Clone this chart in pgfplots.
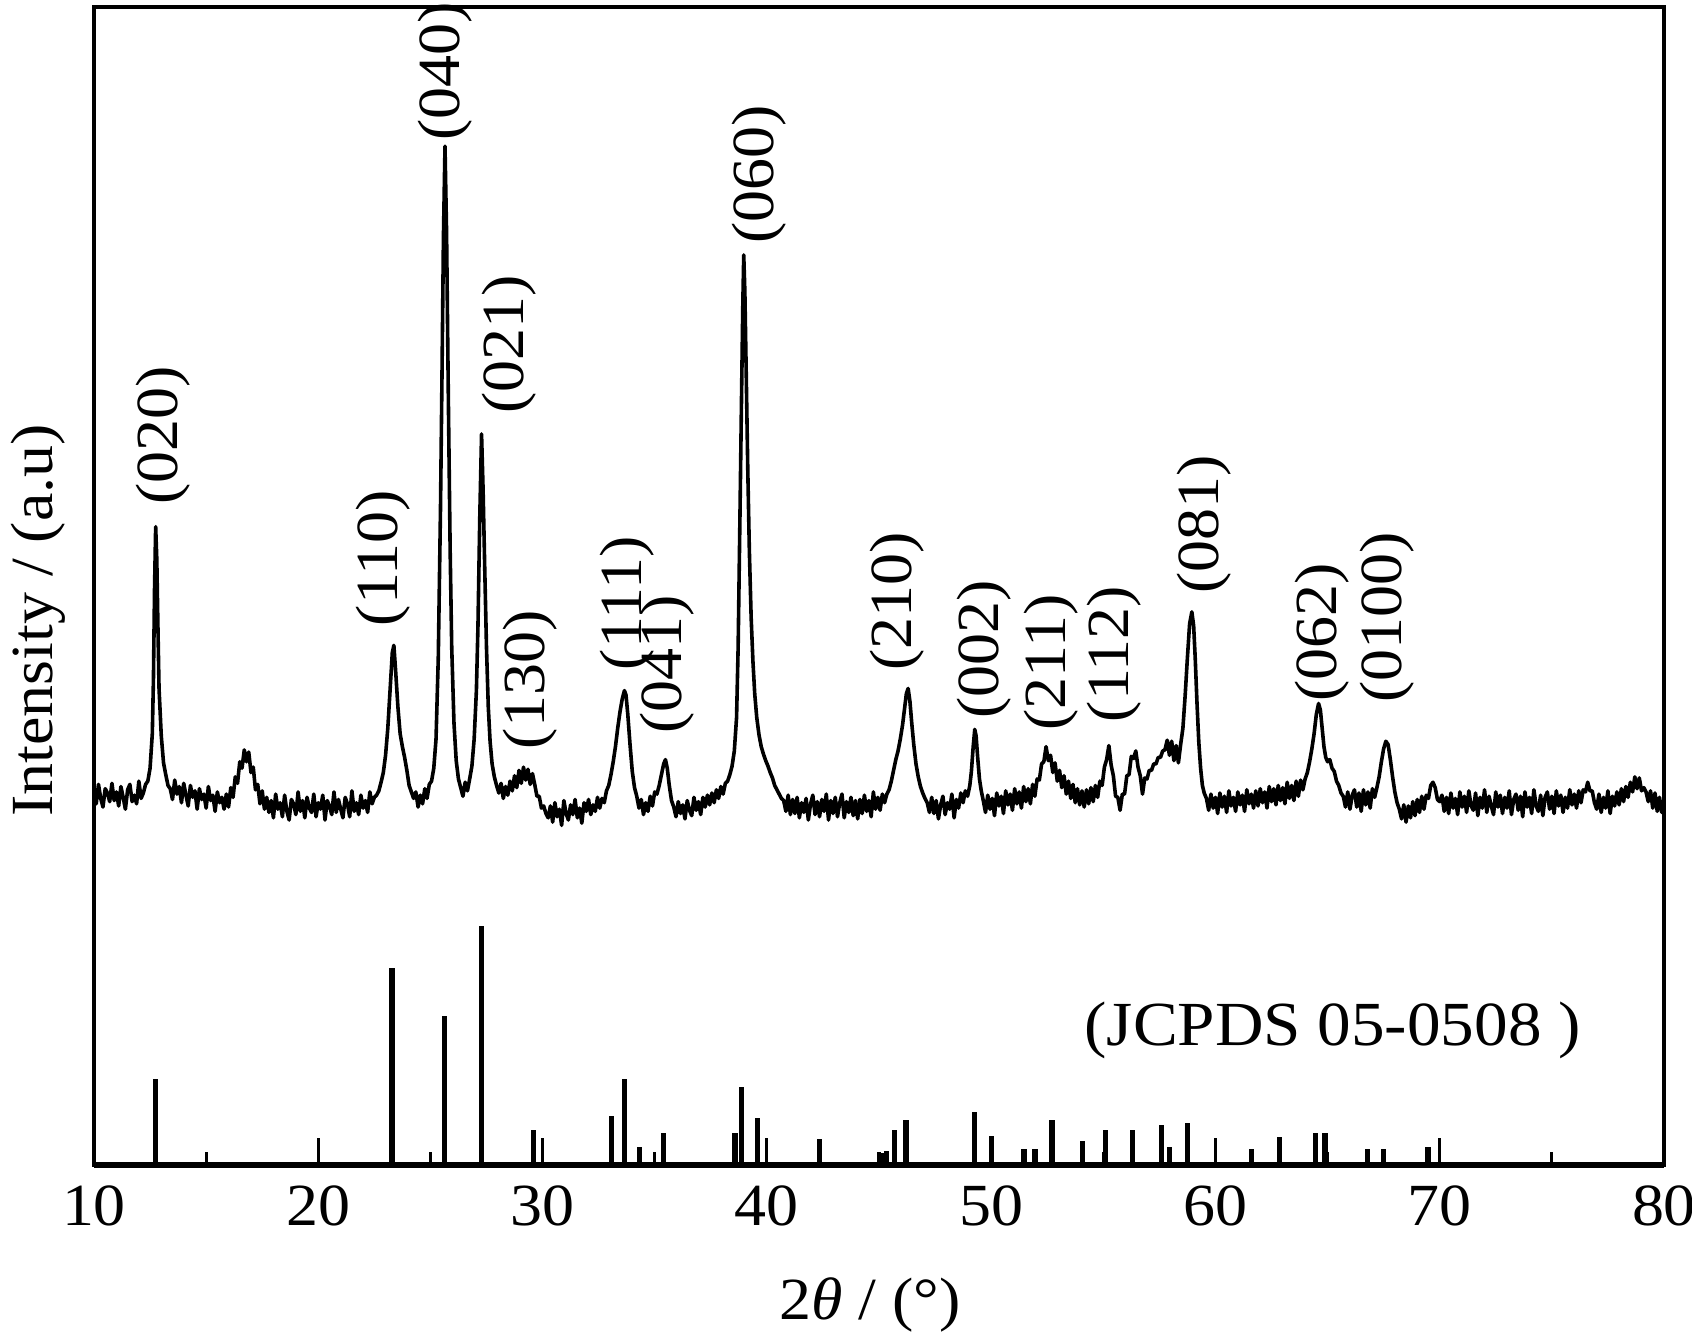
\documentclass[border=0pt]{standalone}
\usepackage{fontspec}
\setmainfont{Liberation Serif}[FakeStretch=1.07]
\usepackage{pgfplots}
\pgfplotsset{compat=1.18}
\begin{document}
\fontsize{15}{18}\selectfont
\begin{tikzpicture}
\begin{axis}[
  scale only axis, width=392.5bp, height=289.5bp,
  xmin=10, xmax=80, ymin=0, ymax=1074,
  xtick={10,20,...,80}, minor x tick num=1, xtick pos=bottom,
  ytick=\empty,
  major tick length=6.75bp, minor tick length=3.25bp,
  tick style={black, line width=0.8bp},
  axis line style={line width=0.85bp},
  /pgf/number format/assume math mode=true,
  ticklabel style={font=\fontsize{15}{18}\selectfont},
  clip=false,
]
% measured pattern
\addplot[black, line width=0.9bp, line join=round] coordinates {
(10.0,348) (10.1,335) (10.2,353) (10.3,340) (10.4,332) (10.5,349) (10.6,345) (10.7,337) (10.8,354) (10.9,338)
(11.0,346) (11.1,333) (11.2,351) (11.3,341) (11.4,330) (11.5,348) (11.6,353) (11.7,337) (11.8,343) (11.9,335)
(12.0,356) (12.1,340) (12.2,345) (12.3,353) (12.4,356) (12.5,368) (12.6,400) (12.65,450) (12.7,535) (12.75,592)
(12.8,562) (12.85,500) (12.9,442) (13.0,398) (13.1,373) (13.2,362) (13.3,352) (13.4,349)
(13.5,339) (13.6,357) (13.7,344) (13.8,351) (13.9,336) (14.0,354) (14.1,343) (14.2,333) (14.3,352) (14.4,341)
(14.5,347) (14.6,330) (14.7,349) (14.8,339) (14.9,344) (15.0,331) (15.1,351) (15.2,338) (15.3,343) (15.4,328)
(15.5,346) (15.6,336) (15.7,341) (15.8,330) (15.9,344)
(16.0,332) (16.1,350) (16.2,341) (16.3,360) (16.4,354) (16.5,374) (16.6,368) (16.7,385) (16.8,374) (16.9,383)
(17.0,364) (17.1,369) (17.2,348) (17.3,353) (17.4,335) (17.5,347) (17.6,330)
(17.7,341) (17.8,327) (17.9,338) (18.0,322) (18.1,344) (18.2,330) (18.3,336) (18.4,323) (18.5,343) (18.6,328)
(18.7,320) (18.8,339) (18.9,335) (19.0,325) (19.1,346) (19.2,328) (19.3,338) (19.4,322) (19.5,341) (19.6,331)
(19.7,327) (19.8,344) (19.9,323) (20.0,336) (20.1,330) (20.2,343) (20.3,320) (20.4,338) (20.5,333) (20.6,325)
(20.7,346) (20.8,327) (20.9,339) (21.0,330) (21.1,322) (21.2,341) (21.3,335) (21.4,323) (21.5,347) (21.6,328)
(21.7,336) (21.8,325) (21.9,343) (22.0,331) (22.1,338) (22.2,327) (22.3,346) (22.4,335) (22.5,341)
(22.6,343) (22.7,347) (22.8,355) (22.9,364) (23.0,380) (23.1,405) (23.2,440) (23.3,475) (23.37,482) (23.45,458)
(23.55,425) (23.65,400) (23.75,388) (23.85,378) (23.95,366) (24.05,352) (24.15,346) (24.25,340)
(24.35,346) (24.45,332) (24.55,343) (24.65,335) (24.75,349) (24.85,340) (24.95,353)
(25.05,356) (25.15,368) (25.25,395) (25.35,470) (25.45,610) (25.52,740) (25.58,860) (25.65,945) (25.72,865)
(25.8,710) (25.88,570) (25.95,480) (26.05,410) (26.15,375) (26.25,358) (26.35,350)
(26.45,342) (26.55,355) (26.65,347)
(26.75,358) (26.85,370) (26.95,395) (27.05,440) (27.12,500) (27.2,600) (27.28,678) (27.35,625) (27.42,555)
(27.5,480) (27.58,425) (27.66,393) (27.75,372) (27.85,360) (27.95,352)
(28.05,345) (28.15,354) (28.25,340) (28.35,351) (28.45,343) (28.55,356)
(28.65,347) (28.75,361) (28.85,350) (28.95,366) (29.05,354) (29.15,369) (29.25,357) (29.35,367) (29.45,353)
(29.55,363) (29.65,353) (29.75,342) (29.85,342) (29.95,331) (30.05,333) (30.15,326)
(30.25,322) (30.35,333) (30.45,318) (30.55,336) (30.65,323) (30.75,330) (30.85,315) (30.95,338) (31.05,326)
(31.15,320) (31.25,334) (31.35,325) (31.45,339) (31.55,322) (31.65,331) (31.75,317) (31.85,336) (31.95,328)
(32.05,339) (32.15,325) (32.25,334) (32.35,328) (32.45,341) (32.55,331)
(32.65,340) (32.75,336) (32.85,347) (32.95,352) (33.05,362) (33.15,374) (33.25,388) (33.35,405) (33.45,420)
(33.55,432) (33.65,440) (33.72,436) (33.8,418) (33.9,390) (34.0,365) (34.1,350) (34.2,342)
(34.3,331) (34.4,339) (34.5,325) (34.6,336) (34.7,328) (34.8,342) (34.9,333) (35.0,346)
(35.1,344) (35.2,352) (35.3,362) (35.4,372) (35.48,376) (35.56,368) (35.65,352) (35.75,338) (35.85,332)
(35.95,323) (36.05,337) (36.15,326) (36.25,334) (36.35,321) (36.45,338) (36.55,329) (36.65,324) (36.75,341)
(36.85,329) (36.95,337) (37.05,325) (37.15,341) (37.25,332) (37.35,343) (37.45,334) (37.55,345) (37.65,336)
(37.75,348) (37.85,340) (37.95,351) (38.05,344) (38.15,354)
(38.25,356) (38.35,362) (38.45,370) (38.55,384) (38.65,415) (38.72,480) (38.8,600) (38.87,710) (38.93,800)
(38.97,844) (39.02,810) (39.08,735) (39.15,645) (39.22,570) (39.3,508) (39.38,467) (39.46,437) (39.55,415)
(39.65,399) (39.75,388) (39.85,381) (39.95,375) (40.05,370) (40.15,364) (40.25,359) (40.35,352) (40.45,348)
(40.55,344) (40.65,340)
(40.75,338) (40.85,328) (40.95,343) (41.05,325) (41.15,339) (41.25,326) (41.35,341) (41.45,322) (41.55,336)
(41.65,327) (41.75,340) (41.85,320) (41.95,335) (42.05,343) (42.15,325) (42.25,337) (42.35,323) (42.45,339)
(42.55,328) (42.65,344) (42.75,320) (42.85,338) (42.95,326) (43.05,341) (43.15,323) (43.25,336) (43.35,344)
(43.45,322) (43.55,337) (43.65,327) (43.75,341) (43.85,324) (43.95,338) (44.05,321) (44.15,339) (44.25,326)
(44.35,343) (44.45,328) (44.55,338) (44.65,323) (44.75,346) (44.85,330) (44.95,341) (45.05,329) (45.15,344)
(45.25,336) (45.35,344) (45.45,348) (45.55,356) (45.65,366) (45.75,376) (45.85,384) (45.95,395) (46.05,408)
(46.15,425) (46.22,437) (46.3,442) (46.38,430) (46.46,410) (46.55,390) (46.65,372) (46.75,360) (46.85,351)
(46.95,345) (47.05,340) (47.15,336)
(47.25,327) (47.35,341) (47.45,326) (47.55,338) (47.65,321) (47.75,334) (47.85,342) (47.95,325) (48.05,336)
(48.15,330) (48.25,344) (48.35,322) (48.45,339) (48.55,331) (48.65,345) (48.75,336) (48.85,347)
(48.95,342) (49.05,352) (49.12,365) (49.2,388) (49.27,404) (49.33,398) (49.4,378) (49.48,358) (49.56,347)
(49.65,338)
(49.75,327) (49.85,343) (49.95,330) (50.05,340) (50.15,324) (50.25,345) (50.35,333) (50.45,342) (50.55,326)
(50.65,347) (50.75,334) (50.85,344) (50.95,329) (51.05,349) (51.15,335) (51.25,346) (51.35,331) (51.45,351)
(51.55,337) (51.65,349) (51.75,335) (51.85,353)
(51.95,342) (52.05,358) (52.15,357) (52.25,372) (52.35,374) (52.45,388) (52.55,375) (52.65,380) (52.75,364)
(52.85,373) (52.95,356) (53.05,366) (53.15,350) (53.25,361) (53.35,344) (53.45,356) (53.55,340) (53.65,353)
(53.75,336) (53.85,349) (53.95,334) (54.05,347) (54.15,332) (54.25,348) (54.35,335) (54.45,350) (54.55,337)
(54.65,352) (54.75,341) (54.85,356)
(54.95,352) (55.05,369) (55.15,376) (55.25,389) (55.35,371) (55.45,361) (55.55,342) (55.65,341) (55.75,329)
(55.85,344) (55.95,344) (56.05,361) (56.15,362) (56.25,379) (56.35,377) (56.45,384) (56.55,369) (56.65,361)
(56.75,344) (56.85,359) (56.95,358) (57.05,366) (57.15,366) (57.25,372) (57.35,372) (57.45,378) (57.55,378)
(57.65,384) (57.75,385) (57.85,394) (57.95,380) (58.05,393) (58.15,375) (58.25,389) (58.35,373) (58.45,390)
(58.55,405) (58.65,435) (58.75,470) (58.85,502) (58.95,513) (59.03,500) (59.1,470) (59.18,428) (59.26,392)
(59.34,368) (59.42,352) (59.5,345) (59.6,340)
(59.7,329) (59.8,344) (59.9,331) (60.0,341) (60.1,326) (60.2,345) (60.3,332) (60.4,342) (60.5,327) (60.6,347)
(60.7,333) (60.8,341) (60.9,328) (61.0,346) (61.1,334) (61.2,343) (61.3,328) (61.4,348) (61.5,335) (61.6,344)
(61.7,331) (61.8,347) (61.9,333) (62.0,349) (62.1,336) (62.2,346) (62.3,331) (62.4,351) (62.5,337) (62.6,349)
(62.7,334) (62.8,352) (62.9,338) (63.0,350) (63.1,335) (63.2,355) (63.3,340) (63.4,352) (63.5,338) (63.6,356)
(63.7,342) (63.8,357) (63.9,348)
(64.0,358) (64.1,364) (64.2,374) (64.3,386) (64.4,400) (64.5,418) (64.6,428) (64.68,422) (64.76,405) (64.84,388)
(64.92,378) (65.0,374) (65.1,376) (65.2,368) (65.3,365) (65.4,356) (65.5,352) (65.6,345) (65.7,342)
(65.8,332) (65.9,346) (66.0,330) (66.1,343) (66.2,348) (66.3,332) (66.4,345) (66.5,328) (66.6,348) (66.7,334)
(66.8,346) (66.9,331) (67.0,349) (67.1,341)
(67.2,350) (67.3,360) (67.4,374) (67.5,386) (67.6,393) (67.7,390) (67.8,376) (67.9,360) (68.0,346) (68.1,336)
(68.2,330)
(68.3,321) (68.4,334) (68.5,318) (68.6,333) (68.7,322) (68.8,337) (68.9,324) (69.0,339) (69.1,327) (69.2,342)
(69.3,330) (69.4,343) (69.5,340) (69.6,352) (69.7,355) (69.8,350) (69.9,339) (70.0,337) (70.1,343) (70.2,328)
(70.3,341) (70.4,326) (70.5,345) (70.6,331) (70.7,340) (70.8,325) (70.9,346) (71.0,332) (71.1,342) (71.2,327)
(71.3,347) (71.4,333) (71.5,329) (71.6,345) (71.7,324) (71.8,341) (71.9,331) (72.0,348) (72.1,327) (72.2,342)
(72.3,333) (72.4,325) (72.5,346) (72.6,332) (72.7,343) (72.8,326) (72.9,341) (73.0,331) (73.1,347) (73.2,325)
(73.3,339) (73.4,344) (73.5,329) (73.6,342) (73.7,323) (73.8,346) (73.9,332) (74.0,341) (74.1,326) (74.2,348)
(74.3,333) (74.4,328) (74.5,343) (74.6,324) (74.7,341) (74.8,346) (74.9,330) (75.0,342) (75.1,326) (75.2,347)
(75.3,333) (75.4,343) (75.5,327) (75.6,341) (75.7,331) (75.8,348) (75.9,334) (76.0,344) (76.1,331) (76.2,347)
(76.3,336) (76.4,348) (76.5,346) (76.6,355) (76.7,347) (76.8,347) (76.9,336) (77.0,330) (77.1,344) (77.2,327)
(77.3,341) (77.4,331) (77.5,347) (77.6,326) (77.7,342) (77.8,333) (77.9,346) (78.0,334) (78.1,349) (78.2,337)
(78.3,351) (78.4,341) (78.5,355) (78.6,346) (78.7,360) (78.8,349) (78.9,359) (79.0,347) (79.1,350) (79.2,346)
(79.3,337) (79.4,347) (79.5,331) (79.6,345) (79.7,328) (79.8,341) (79.9,327) (80.0,338)
};
% reference lines JCPDS 05-0508
\addplot[black, ycomb, line width=1.35bp] coordinates {
(12.75,80) (23.28,183) (25.64,138) (27.28,222) (29.60,32) (33.08,45) (33.66,80) (34.33,17) (35.39,30)
(38.58,30) (38.87,72) (39.59,44) (42.35,24) (45.10,11) (45.34,13) (45.68,32) (46.21,42) (49.25,49)
(50.02,27) (51.47,15) (51.95,15) (52.72,42) (54.08,22) (55.09,32) (56.30,32) (57.60,37) (57.94,17)
(58.76,39) (61.61,15) (62.86,26) (64.46,30) (64.89,30) (66.77,15) (67.50,15) (69.48,17)
};
\draw[line width=1.3bp] (rel axis cs:0,0) -- (rel axis cs:1,0);
\node[rotate=90] at (axis cs:13.09,677) {(020)};
\node[rotate=90] at (axis cs:22.89,563) {(110)};
\node[rotate=90] at (axis cs:25.64,1014) {(040)};
\node[rotate=90] at (axis cs:28.49,761) {(021)};
\node[rotate=90] at (axis cs:29.46,450) {(130)};
\node[rotate=90] at (axis cs:33.75,521) {(111)};
\node[rotate=90] at (axis cs:35.54,464) {(041)};
\node[rotate=90] at (axis cs:39.64,919) {(060)};
\node[rotate=90] at (axis cs:45.82,523) {(210)};
\node[rotate=90] at (axis cs:49.68,478) {(002)};
\node[rotate=90] at (axis cs:52.68,466) {(211)};
\node[rotate=90] at (axis cs:55.48,474) {(112)};
\node[rotate=90] at (axis cs:59.48,594) {(081)};
\node[rotate=90] at (axis cs:64.74,494) {(062)};
\node[rotate=90] at (axis cs:67.64,508) {(0100)};
\node[font=\fontsize{15.75}{18}\selectfont] at (axis cs:65.23,125) {(JCPDS 05-0508 )};
\node[rotate=90] at (axis cs:7.5,505) {Intensity / (a.u)};
\node at (axis cs:44.6,-130) {2{\itshape θ} / (°)};
\end{axis}
\pgfresetboundingbox
\path[use as bounding box] (-23.5bp,-44.25bp) rectangle (399.5bp,291.25bp);
\end{tikzpicture}
\end{document}
